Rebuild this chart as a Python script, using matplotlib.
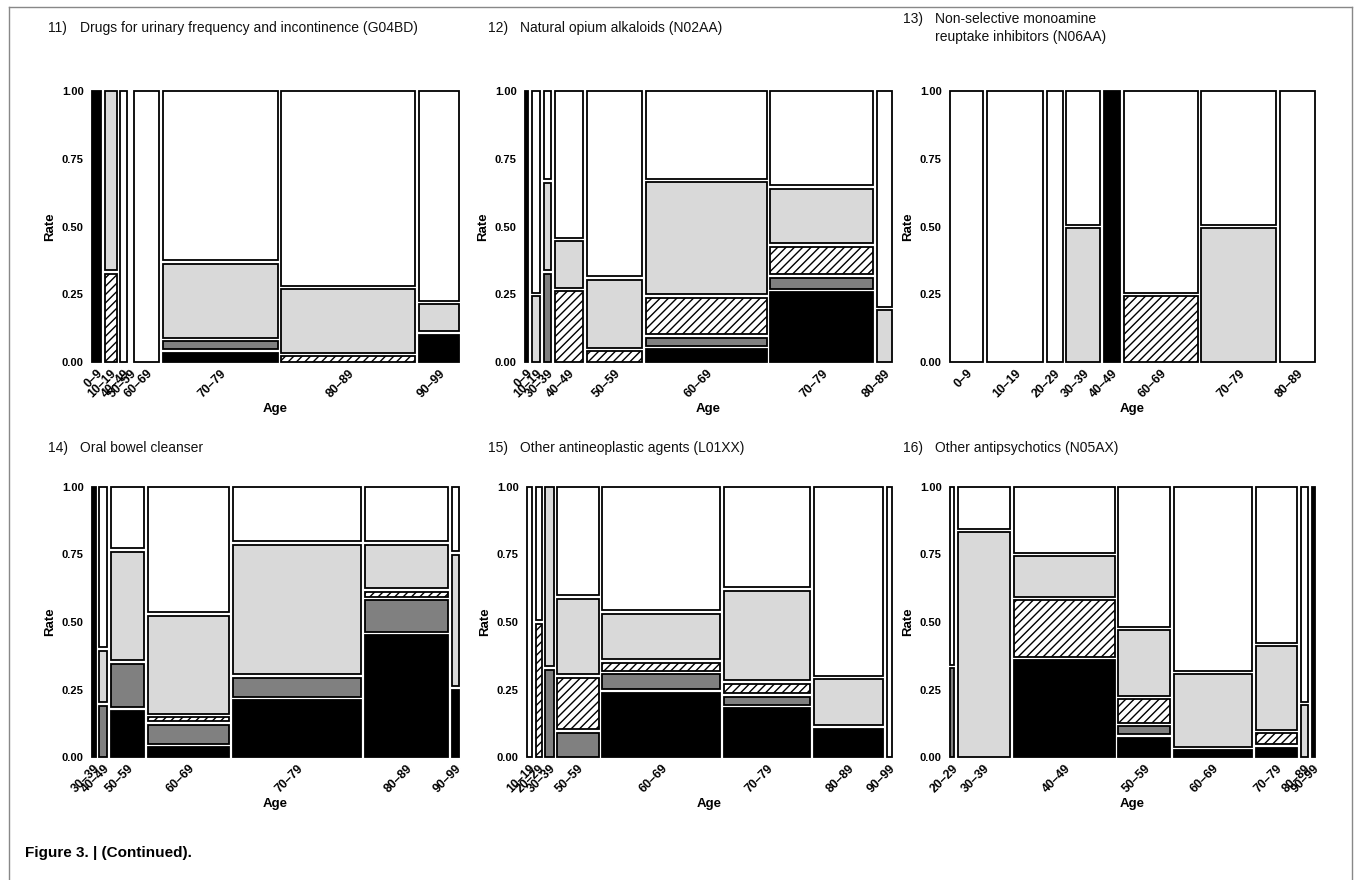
import matplotlib
matplotlib.use("Agg")
import matplotlib.pyplot as plt
from matplotlib.lines import Line2D

plt.rcParams['font.family'] = ['Liberation Sans', 'DejaVu Sans']
plt.rcParams['hatch.linewidth'] = 1.0

# Segment order (bottom -> top): black, dark grey, hatched, light grey, white
FILLS = ['#000000', '#808080', '#ffffff', '#d9d9d9', '#ffffff']
HATCHES = [None, None, '////', None, None]

NUMBERS = ["11)", "12)", "13)", "14)", "15)", "16)"]
TITLES = [
    "Drugs for urinary frequency and incontinence (G04BD)",
    "Natural opium alkaloids (N02AA)",
    "Non-selective monoamine\nreuptake inhibitors (N06AA)",
    "Oral bowel cleanser",
    "Other antineoplastic agents (L01XX)",
    "Other antipsychotics (N05AX)",
]

AGES_11 = ["0–9", "10–19", "40–49", "50–59", "60–69", "70–79", "80–89", "90–99"]
WIDTH_11 = [27, 37, 19, 0, 77, 352, 410, 123]
SHARE_11 = [[1, 0, 0, 0, 0], [0, 0, .33, .67, 0], [0, 0, 0, 0, 1], [0, 0, 0, 0, 1],
            [0, 0, 0, 0, 1], [.035, .03, 0, .28, .64], [0, 0, .022, .235, .72],
            [.10, 0, 0, .10, .77]]

AGES_12 = ["0–9", "10–19", "30–39", "40–49", "50–59", "60–69", "70–79", "80–89"]
WIDTH_12 = [10, 25, 22, 85, 167, 365, 312, 45]
SHARE_12 = [[1, 0, 0, 0, 0], [0, 0, 0, .24, .74], [0, .32, 0, .32, .32],
            [0, 0, .26, .17, .54], [0, 0, .04, .25, .68], [.045, .03, .13, .40, .315],
            [.255, .04, .10, .20, .345], [0, 0, 0, .19, .79]]

AGES_13 = ["0–9", "10–19", "20–29", "30–39", "40–49", "60–69", "70–79", "80–89"]
WIDTH_13 = [100, 168, 48, 100, 50, 221, 225, 105]
SHARE_13 = [[0, 0, 0, 0, 1], [0, 0, 0, 0, 1], [0, 0, 0, 0, 1], [0, 0, 0, .49, .49],
            [1, 0, 0, 0, 0], [0, 0, .24, 0, .74], [0, 0, 0, .49, .49], [0, 0, 0, 0, 1]]

AGES_14 = ["30–39", "40–49", "50–59", "60–69", "70–79", "80–89", "90–99"]
WIDTH_14 = [11, 24, 103, 248, 397, 255, 22]
SHARE_14 = [[1, 0, 0, 0, 0], [0, .19, 0, .19, .595], [.17, .16, 0, .40, .225],
            [.037, .07, .015, .365, .465], [.21, .07, 0, .48, .20],
            [.45, .115, .02, .16, .20], [.25, 0, 0, .49, .24]]

AGES_15 = ["10–19", "20–29", "30–39", "50–59", "60–69", "70–79", "80–89", "90–99"]
WIDTH_15 = [15, 18, 25, 125, 357, 262, 210, 15]
SHARE_15 = [[0, 0, 0, 0, 1], [0, 0, .49, 0, .49], [0, .32, 0, .66, 0],
            [0, .09, .19, .28, .40], [.24, .055, .03, .17, .46],
            [.18, .03, .035, .33, .37], [.105, 0, 0, .17, .70], [0, 0, 0, 0, 1]]

AGES_16 = ["20–29", "30–39", "40–49", "50–59", "60–69", "70–79", "80–89", "90–99"]
WIDTH_16 = [12, 163, 310, 160, 241, 127, 23, 10]
SHARE_16 = [[0, .33, 0, 0, .66], [0, 0, 0, .83, .155], [.36, 0, .21, .15, .245],
            [.07, .03, .085, .24, .51], [.025, 0, 0, .27, .685],
            [.035, 0, .04, .31, .58], [0, 0, 0, .19, .79], [1, 0, 0, 0, 0]]

PANELS = [(AGES_11, WIDTH_11, SHARE_11), (AGES_12, WIDTH_12, SHARE_12),
          (AGES_13, WIDTH_13, SHARE_13), (AGES_14, WIDTH_14, SHARE_14),
          (AGES_15, WIDTH_15, SHARE_15), (AGES_16, WIDTH_16, SHARE_16)]

W, H = 1355, 880
fig = plt.figure(figsize=(W / 100, H / 100), dpi=100)

# axes boxes in pixels: (x0, x1, y0_top, y1_bottom)
BOXES = [(92, 459, 91, 362), (525, 892, 91, 362), (950, 1315, 91, 362),
         (92, 459, 487, 757), (527, 892, 487, 757), (950, 1315, 487, 757)]
TITLE_POS = [(48, 28), (488, 28), (903, 19), (48, 448), (488, 448), (903, 448)]
TITLE_OFFSET = 32

XGAP = 0.011
YGAP = 0.013

for (ages, widths, shares), (x0, x1, yt, yb), (tx, ty), num, title in zip(
        PANELS, BOXES, TITLE_POS, NUMBERS, TITLES):
    ax = fig.add_axes([x0 / W, 1 - yb / H, (x1 - x0) / W, (yb - yt) / H])
    g = XGAP * sum(widths)
    pos = 0.0
    centers = []
    for w, sh in zip(widths, shares):
        centers.append(pos + w / 2)
        if w > 0:
            nz = [i for i, s in enumerate(sh) if s > 0]
            tot = sum(sh[i] for i in nz)
            avail = 1 - YGAP * (len(nz) - 1)
            bottom = 0.0
            for i in nz:
                h = sh[i] / tot * avail
                ax.bar(pos, h, width=w, bottom=bottom, align='edge', color=FILLS[i],
                       edgecolor='black', linewidth=1.3, hatch=HATCHES[i], clip_on=False)
                bottom += h + YGAP
        pos += w + g
    total = pos - g
    ax.set_xlim(0, total)
    ax.set_ylim(0, 1)
    for s in ax.spines.values():
        s.set_visible(False)
    ax.set_yticks([0, 0.25, 0.5, 0.75, 1.0])
    ax.set_yticklabels(["0.00", "0.25", "0.50", "0.75", "1.00"], fontsize=8, fontweight='bold')
    ax.set_xticks(centers)
    ax.set_xticklabels(ages, rotation=45, ha='right', rotation_mode='anchor',
                       fontsize=8.8, fontweight='bold')
    ax.tick_params(length=0, pad=6)
    ax.tick_params(axis='x', pad=4)
    ax.set_ylabel("Rate", fontsize=9.5, fontweight='bold', labelpad=4)
    ax.set_xlabel("Age", fontsize=9.5, fontweight='bold', labelpad=2)
    fig.text(tx / W, 1 - ty / H, num, fontsize=10, color='#111111', va='center', ha='left')
    lines = title.split("\n")
    for k, line in enumerate(lines):
        fig.text((tx + TITLE_OFFSET) / W, 1 - (ty + 18 * k) / H, line, fontsize=10,
                 color='#111111', va='center', ha='left')

fig.text(25 / W, 1 - 853 / H, "Figure 3. | (Continued).", fontsize=11, fontweight='bold',
         va='center', ha='left')

# frame around the figure (no bottom edge visible)
fc = '#888888'
fig.add_artist(Line2D([9 / W, 9 / W], [0, 1 - 7 / H], transform=fig.transFigure, color=fc, lw=1))
fig.add_artist(Line2D([9 / W, 1352 / W], [1 - 7 / H, 1 - 7 / H], transform=fig.transFigure, color=fc, lw=1))
fig.add_artist(Line2D([1352 / W, 1352 / W], [0, 1 - 7 / H], transform=fig.transFigure, color=fc, lw=1))

fig.savefig("out.png", dpi=100, facecolor='white')
